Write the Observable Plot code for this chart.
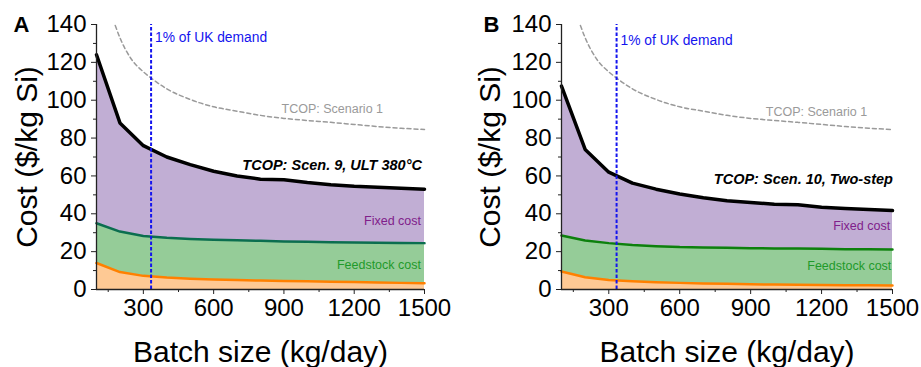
<!DOCTYPE html>
<html>
<head>
<meta charset="utf-8">
<script src="https://cdn.jsdelivr.net/npm/d3@7"></script>
<script src="https://cdn.jsdelivr.net/npm/@observablehq/plot@0.6"></script>
<style>
  body { margin: 0; background: #fff; }
  #wrap { display: flex; width: 921px; height: 367px; }
  svg { font-family: "Liberation Sans", Arial, sans-serif; }
</style>
</head>
<body>
<div id="wrap"></div>
<script>
// Batch size (kg/day)
const batch = [100, 200, 300, 400, 500, 600, 700, 800, 900, 1000, 1100, 1200, 1300, 1400, 1500];

// Panel A: Scen. 9, ULT 380°C (cumulative tops, $/kg Si)
const aTotal = [124, 88, 76, 70, 66, 62.5, 60, 58.3, 58, 56.5, 55.3, 54.5, 54, 53.5, 53];
const aFeed  = [35, 30.6, 28.3, 27.3, 26.7, 26.3, 26, 25.7, 25.4, 25.2, 25, 24.8, 24.7, 24.6, 24.5];
const aVar   = [14, 9.2, 7.2, 6.3, 5.7, 5.3, 5, 4.7, 4.5, 4.3, 4.1, 4, 3.7, 3.5, 3.3];

// Panel B: Scen. 10, Two-step
const bTotal = [107.5, 74, 62, 56.2, 53, 50.5, 48.5, 46.9, 46, 45, 44.8, 43.5, 42.8, 42.2, 41.7];
const bFeed  = [28.5, 25.9, 24.5, 23.5, 22.9, 22.4, 22.2, 22, 21.8, 21.7, 21.6, 21.5, 21.3, 21.2, 21.1];
const bVar   = [9.5, 6.5, 5, 4.3, 3.8, 3.5, 3.2, 3, 2.8, 2.6, 2.5, 2.4, 2.3, 2.2, 2.1];

// TCOP: Scenario 1 (grey dashed)
const s1Batch = [180, 200, 250, 300, 335, 400, 500, 600, 700, 800, 900, 1000, 1100, 1200, 1300, 1400, 1500];
const s1Cost  = [139.5, 133, 121.5, 115, 111.5, 106, 100.4, 96.5, 94.2, 92, 90.4, 89.3, 88.3, 87.2, 86.1, 85.2, 84.5];

// 1% of UK demand
const ukDemand = 333;

const yMajor = [0, 20, 40, 60, 80, 100, 120, 140];
const yMinor = [10, 30, 50, 70, 90, 110, 130];
const xMajor = [300, 600, 900, 1200, 1500];
const xMinor = [150, 450, 750, 1050, 1350];

const colors = {
  fixedFill: "#c1aed4", feedFill: "#95cc98", varFill: "#fec994",
  varLine: "#ff8000", total: "#000000", s1: "#9a9a9a", uk: "#1414ee",
  fixedText: "#80208a", feedText: "#1f9a2a"
};

function panel(opts) {
  const rows = batch.map((x, i) => ({x, total: opts.total[i], feed: opts.feed[i], v: opts.v[i]}));
  const s1 = s1Batch.map((x, i) => ({x, y: s1Cost[i]}));
  const fam = "Liberation Sans, Arial, sans-serif";
  const blank = () => "";
  const plain = d => String(d);
  return Plot.plot({
    width: opts.width, height: 367,
    marginLeft: opts.ml, marginRight: opts.mr, marginTop: 24, marginBottom: 78,
    style: {fontFamily: fam, background: "white", overflow: "visible"},
    x: {domain: [100, 1500]},
    y: {domain: [0, 140]},
    marks: [
      Plot.areaY(rows, {x: "x", y1: 0, y2: "v", fill: colors.varFill}),
      Plot.areaY(rows, {x: "x", y1: "v", y2: "feed", fill: colors.feedFill}),
      Plot.areaY(rows, {x: "x", y1: "feed", y2: "total", fill: colors.fixedFill}),
      Plot.line(rows, {x: "x", y: "v", stroke: colors.varLine, strokeWidth: 2.5}),
      Plot.line(rows, {x: "x", y: "feed", stroke: opts.feedLine, strokeWidth: 2.5}),
      Plot.line(rows, {x: "x", y: "total", stroke: colors.total, strokeWidth: 3.5}),
      Plot.line(s1, {x: "x", y: "y", curve: "monotone-x", stroke: colors.s1, strokeWidth: 1.5, strokeDasharray: "4,3"}),
      Plot.ruleX([ukDemand], {y1: 0, y2: 140, stroke: colors.uk, strokeWidth: 2, strokeDasharray: "3.5,2"}),
      Plot.ruleX([100], {y1: 0, y2: 140, stroke: "#222", strokeWidth: 1.3}),
      Plot.ruleY([0], {x1: 100, x2: 1500, stroke: "#222", strokeWidth: 1.3}),
      Plot.axisY({ticks: yMinor, tickSize: 3, tickFormat: blank, label: null, stroke: "#222"}),
      Plot.axisY({ticks: yMajor, tickSize: 5, tickPadding: 5, tickFormat: plain, fontSize: 24, label: null, stroke: "#222", fill: "#000"}),
      Plot.axisX({ticks: xMinor, tickSize: 3, tickFormat: blank, label: null, stroke: "#222"}),
      Plot.axisX({ticks: xMajor, tickSize: 5, tickPadding: 4, tickFormat: plain, fontSize: 24, label: null, stroke: "#222", fill: "#000"}),
      Plot.text(["Cost ($/kg Si)"], {frameAnchor: "left", dx: opts.yLabDx, rotate: -90, fontSize: 30, fill: "#000", textAnchor: "middle", lineAnchor: "middle"}),
      Plot.text(["Batch size (kg/day)"], {frameAnchor: "bottom", dy: 63, fontSize: 30, fill: "#000", textAnchor: "middle", lineAnchor: "middle"}),
      Plot.text([opts.letter], {frameAnchor: "top-left", dx: opts.letterDx, dy: 0, fontSize: 22, fontWeight: "bold", fill: "#000", textAnchor: "middle", lineAnchor: "middle"}),
      Plot.text([{x: ukDemand, y: opts.ukY}], {x: "x", y: "y", text: () => "1% of UK demand", dx: 4, textAnchor: "start", lineAnchor: "middle", fontSize: 13.8, fill: colors.uk}),
      Plot.text([{x: opts.s1X, y: opts.s1Y}], {x: "x", y: "y", text: () => "TCOP: Scenario 1", textAnchor: "end", lineAnchor: "middle", fontSize: 12.5, fill: "#9a9a9a"}),
      Plot.text([{x: opts.scX, y: opts.scY}], {x: "x", y: "y", text: () => opts.scText, textAnchor: "end", lineAnchor: "middle", fontSize: 14.5, fontWeight: "bold", fontStyle: "italic", fill: "#000"}),
      Plot.text([{x: opts.fxX, y: opts.fxY}], {x: "x", y: "y", text: () => "Fixed cost", textAnchor: "end", lineAnchor: "middle", fontSize: 12.5, fill: colors.fixedText}),
      Plot.text([{x: opts.fdX, y: opts.fdY}], {x: "x", y: "y", text: () => "Feedstock cost", textAnchor: "end", lineAnchor: "middle", fontSize: 12.5, fill: colors.feedText})
    ]
  });
}

const wrap = document.getElementById("wrap");
wrap.appendChild(panel({
  width: 460, ml: 96, mr: 36, total: aTotal, feed: aFeed, v: aVar, feedLine: "#0b6e4f",
  letter: "A", letterDx: -75, yLabDx: -69,
  ukY: 133, s1X: 1323, s1Y: 95.3, scX: 1489, scY: 65.5, scText: "TCOP: Scen. 9, ULT 380°C",
  fxX: 1485, fxY: 36, fdX: 1485, fdY: 13
}));
wrap.appendChild(panel({
  width: 461, ml: 101, mr: 29, total: bTotal, feed: bFeed, v: bVar, feedLine: "#0d800d",
  letter: "B", letterDx: -70, yLabDx: -71,
  ukY: 131.4, s1X: 1393, s1Y: 94, scX: 1502, scY: 58, scText: "TCOP: Scen. 10, Two-step",
  fxX: 1490, fxY: 33.3, fdX: 1495, fdY: 12.3
}));
</script>
</body>
</html>
